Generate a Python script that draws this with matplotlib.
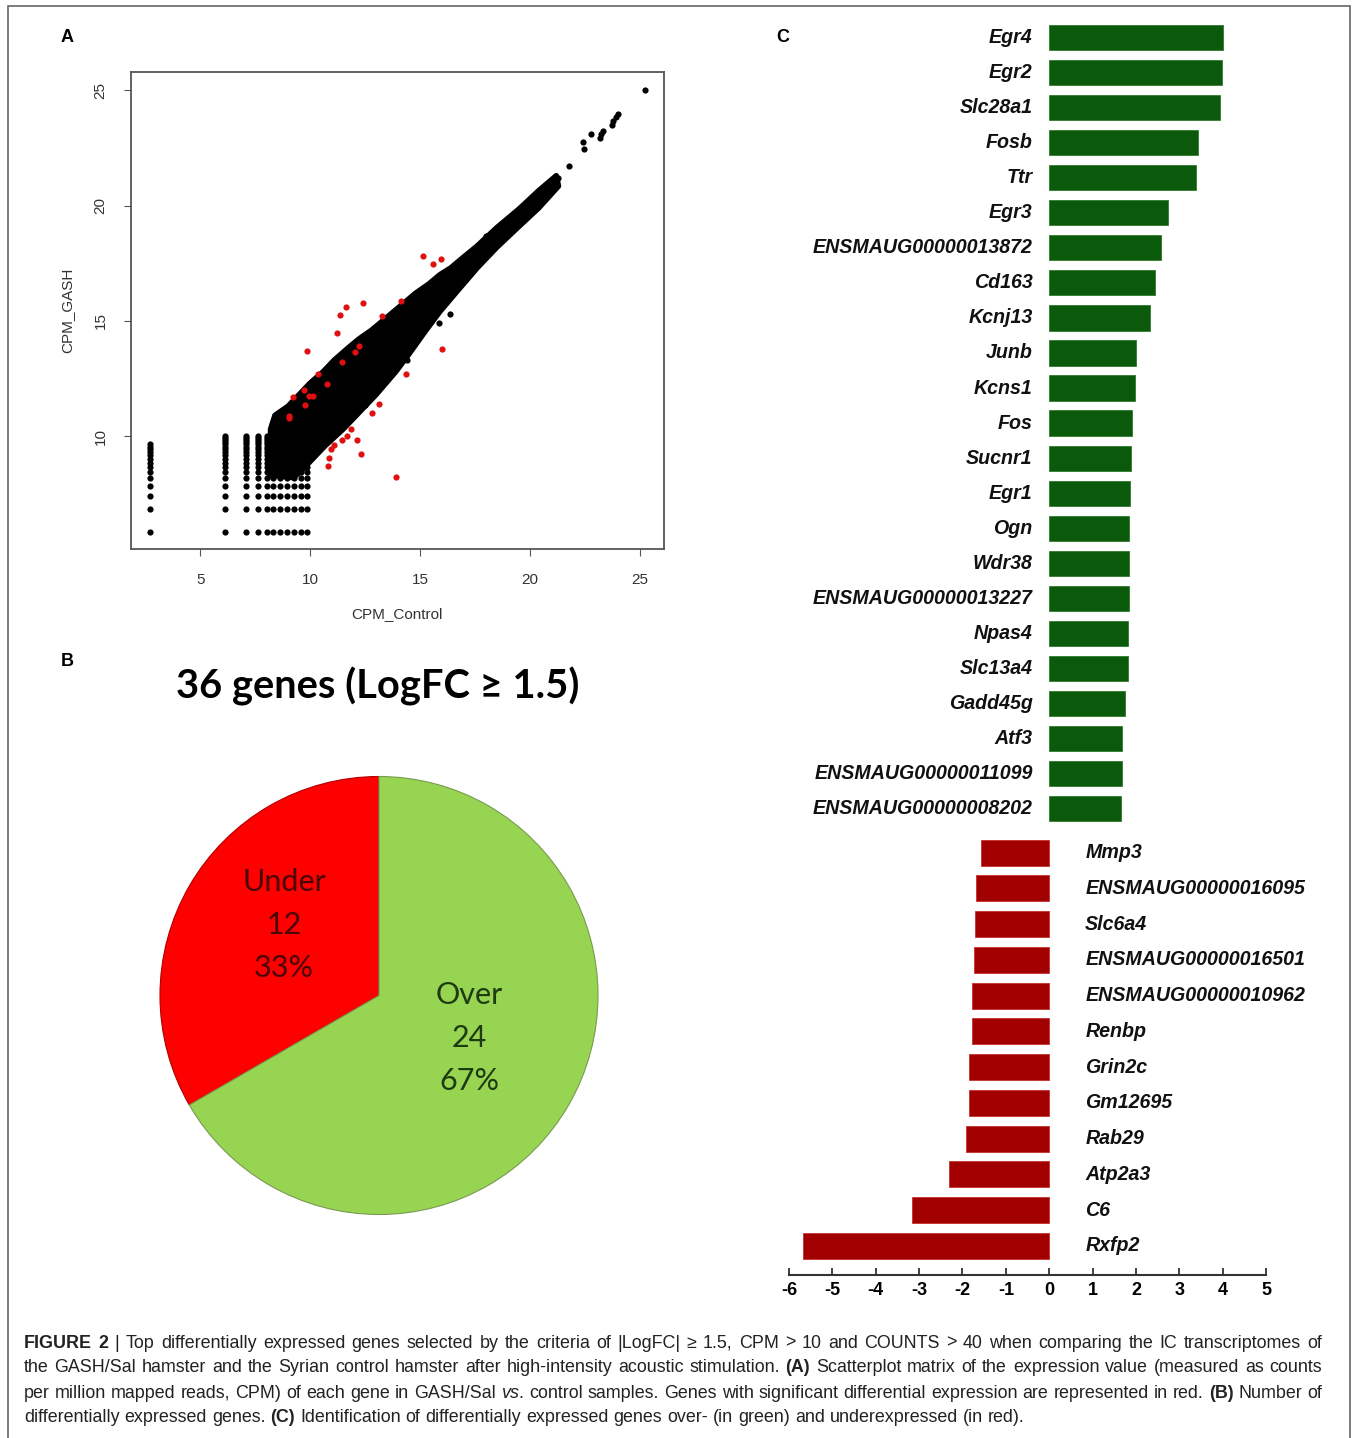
import re
import numpy as np
import matplotlib
matplotlib.use("Agg")
import matplotlib.pyplot as plt
from matplotlib.patches import Rectangle

# ---- panel A: CPM scatter ----
# discrete low-count levels (columns of CPM_Control, rows of CPM_GASH)
grid_x = [2.70, 6.14, 7.07, 7.65, 8.03, 8.33, 8.64, 8.94, 9.28, 9.58, 9.86]
grid_y = [5.84, 6.84, 7.42, 7.84, 8.16, 8.42, 8.65, 8.84, 9.01, 9.16,
          9.30, 9.42, 9.54, 9.65, 9.75, 9.84, 9.93, 10.01]
grid_rows = [14, 18, 18, 18, 18, 18, 18, 18, 18, 18, 18]

# outline of the dense body of genes
cloud_x = [8.2, 8.4, 9.0, 9.5, 10.0, 10.6, 11.1, 11.7, 12.2, 12.8, 13.3, 13.8,
           14.3, 14.8, 15.4, 15.9, 16.4, 16.9, 17.6, 18.5, 19.5, 20.4, 21.2,
           21.3, 20.4, 19.5, 18.5, 17.6, 16.7, 15.9, 15.2, 14.45, 13.9, 13.0,
           12.2, 11.5, 10.7, 10.2, 9.6, 9.24, 8.2]
cloud_y = [10.3, 10.9, 11.3, 11.8, 12.3, 12.8, 13.3, 13.8, 14.2, 14.6, 15.0, 15.4,
           15.8, 16.2, 16.6, 17.0, 17.3, 17.7, 18.25, 19.05, 19.85, 20.65, 21.3,
           20.85, 19.9, 19.1, 18.2, 17.3, 16.3, 15.4, 14.5, 13.5, 12.8, 11.8,
           11.0, 10.3, 9.6, 9.1, 8.5, 8.2, 8.3]

# isolated black genes
other_x = [25.23, 24.0, 23.93, 23.78, 23.75, 23.33, 23.25, 23.17, 22.79, 22.41,
           22.44, 21.76, 21.27, 18.0, 16.7, 16.35, 15.85, 14.92, 14.41, 13.8,
           14.4, 12.96, 12.5, 9.33]
other_y = [25.0, 23.96, 23.86, 23.67, 23.52, 23.23, 23.09, 22.94, 23.09, 22.75,
           22.47, 21.71, 21.2, 18.67, 17.48, 15.3, 14.9, 16.1, 15.46, 15.14,
           13.3, 11.85, 11.36, 10.96]

# differentially expressed genes
de_x = [15.14, 15.6, 15.94, 14.12, 12.4, 11.62, 11.34, 13.28, 11.2, 9.84, 12.03,
        12.22, 11.44, 10.36, 10.79, 9.73, 9.2, 9.95, 10.13, 9.76, 9.02, 9.05,
        16.0, 14.36, 13.15, 12.81, 11.85, 11.47, 11.66, 11.1, 10.95, 10.88,
        10.82, 12.13, 12.31, 13.89]
de_y = [17.82, 17.45, 17.7, 15.86, 15.78, 15.59, 15.26, 15.22, 14.49, 13.69, 13.64,
        13.93, 13.21, 12.71, 12.28, 12.0, 11.69, 11.73, 11.73, 11.33, 10.88, 10.8,
        13.77, 12.68, 11.41, 11.0, 10.29, 9.84, 10.0, 9.6, 9.44, 9.07,
        8.72, 9.84, 9.23, 8.23]

# ---- panel B: pie ----
pie_names = ["Under", "Over"]
pie_counts = [12, 24]

# ---- panel C: logFC bars ----
up_genes = ["Egr4", "Egr2", "Slc28a1", "Fosb", "Ttr", "Egr3", "ENSMAUG00000013872",
            "Cd163", "Kcnj13", "Junb", "Kcns1", "Fos", "Sucnr1", "Egr1", "Ogn",
            "Wdr38", "ENSMAUG00000013227", "Npas4", "Slc13a4", "Gadd45g", "Atf3",
            "ENSMAUG00000011099", "ENSMAUG00000008202"]
up_fc = [4.01, 3.99, 3.94, 3.44, 3.39, 2.73, 2.58, 2.44, 2.33, 2.00, 1.98, 1.92,
         1.89, 1.87, 1.84, 1.84, 1.83, 1.82, 1.82, 1.74, 1.68, 1.67, 1.66]
down_genes = ["Mmp3", "ENSMAUG00000016095", "Slc6a4", "ENSMAUG00000016501",
              "ENSMAUG00000010962", "Renbp", "Grin2c", "Gm12695", "Rab29",
              "Atp2a3", "C6", "Rxfp2"]
down_fc = [-1.58, -1.68, -1.72, -1.74, -1.79, -1.79, -1.84, -1.85, -1.91, -2.32,
           -3.16, -5.68]

caption = [
    "**FIGURE 2** | Top differentially expressed genes selected by the criteria of |LogFC|  \u2265 1.5, CPM > 10 and COUNTS > 40 when comparing the IC transcriptomes of",
    "the GASH/Sal hamster and the Syrian control hamster after high-intensity acoustic stimulation. **(A)** Scatterplot matrix of the expression value (measured as counts",
    "per million mapped reads, CPM) of each gene in GASH/Sal *vs*. control samples. Genes with significant differential expression are represented in red. **(B)** Number of",
    "differentially expressed genes. **(C)** Identification of differentially expressed genes over- (in green) and underexpressed (in red).",
]

W, H = 1358, 1438
plt.rcParams["font.family"] = ["Liberation Sans", "DejaVu Sans"]
plt.rcParams["axes.unicode_minus"] = False
fig = plt.figure(figsize=(W / 100, H / 100), dpi=100)


def box(left, top, right, bottom):
    return [left / W, 1 - bottom / H, (right - left) / W, (bottom - top) / H]


def fx(px):
    return px / W


def fy(py):
    return 1 - py / H


# outer frame
fig.add_artist(Rectangle((fx(8), -0.01), (1350 - 8) / W, fy(6) + 0.01,
                         transform=fig.transFigure, fill=False, ec="#666", lw=1.2))

for letter, (px, py) in zip("ABC", [(67, 37), (67, 661), (783, 37)]):
    fig.text(fx(px), fy(py), letter, fontsize=13, weight="bold", ha="center", va="center")

# ---------------- A ----------------
ax = fig.add_axes(box(131, 72, 664, 549))
gpts = [(x, y) for x, n in zip(grid_x, grid_rows) for y in grid_y[:n]]
gx, gy = zip(*gpts)
ax.fill(cloud_x, cloud_y, fc="black", ec="black", lw=4, joinstyle="round")
ax.scatter(gx, gy, s=20, c="black", lw=0)
ax.scatter(other_x, other_y, s=20, c="black", lw=0)
ax.scatter(de_x, de_y, s=20, c="#e01010", lw=0, zorder=3)
ax.set_xlim(1.85, 26.1)
ax.set_ylim(5.1, 25.8)
ax.set_xticks([5, 10, 15, 20, 25])
ax.set_yticks([10, 15, 20, 25])
ax.tick_params(length=5, color="#555", labelcolor="#333", labelsize=11, pad=12)
for lab in ax.get_yticklabels():
    lab.set_rotation(90)
    lab.set_va("center")
for s in ax.spines.values():
    s.set_color("#555")
    s.set_linewidth(1.3)
fig.text(fx(397), fy(614), "CPM_Control", fontsize=11, color="#333", ha="center", va="center")
fig.text(fx(67), fy(310), "CPM_GASH", fontsize=11, color="#333", ha="center", va="center",
         rotation=90)

# ---------------- B ----------------
fig.text(fx(378), fy(686), "36 genes (LogFC \u2265 1.5)", fontsize=28.7, weight="bold",
         family=["Lato", "DejaVu Sans"], ha="center", va="center")
axp = fig.add_axes(box(160, 776.5, 598, 1214.5))
wedges, _ = axp.pie(pie_counts, colors=["#fe0000", "#96d452"], startangle=90,
                    counterclock=True, radius=1,
                    wedgeprops=dict(ec="#7a9a50", lw=0.8))
wedges[0].set_edgecolor("#b00000")
axp.set_xlim(-1, 1)
axp.set_ylim(-1, 1)
total = sum(pie_counts)
label_xy = [(-0.434, 0.322), (0.411, -0.194)]
for (lx, ly), name, n, col in zip(label_xy, pie_names, pie_counts,
                                  ["#4a0505", "#1d3a10"]):
    axp.text(lx, ly, f"{name}\n{n}\n{round(100 * n / total)}%",
             ha="center", va="center", fontsize=22, color=col,
             family=["Lato", "DejaVu Sans"], linespacing=1.66)

# ---------------- C ----------------
axb = fig.add_axes(box(789, 15, 1266, 1275))
up_pos = np.arange(len(up_genes))
down_pos = len(up_genes) + 0.25 + np.arange(len(down_genes)) * 1.02
axb.barh(up_pos, up_fc, height=0.72, color="#0b5a0b", ec="#2f7a2f", lw=0.6)
axb.barh(down_pos, down_fc, height=0.74, color="#a20000", ec="#c83030", lw=0.6)
for p, g in zip(up_pos, up_genes):
    axb.text(-0.38, p, g, ha="right", va="center", fontsize=14.1, weight="bold",
             style="italic", color="#111", clip_on=False)
for p, g in zip(down_pos, down_genes):
    axb.text(0.83, p, g, ha="left", va="center", fontsize=14.1, weight="bold",
             style="italic", color="#111", clip_on=False)
axb.set_xlim(-6, 5)
axb.set_ylim(35.3, -0.64)
for side in ["top", "left", "right"]:
    axb.spines[side].set_visible(False)
axb.spines["bottom"].set_bounds(-6, 5)
axb.spines["bottom"].set_linewidth(1.5)
axb.spines["bottom"].set_color("#333")
axb.set_yticks([])
axb.set_xticks(range(-6, 6))
axb.tick_params(axis="x", direction="in", length=5, width=1.3, color="#333",
                labelsize=13, pad=5)
for lab in axb.get_xticklabels():
    lab.set_fontweight("bold")

# ---------------- caption ----------------
renderer = fig.canvas.get_renderer()


def split_words(line):
    runs, style = [], "normal"
    for tok in re.split(r"(\*\*|\*)", line):
        if tok == "**":
            style = "normal" if style == "bold" else "bold"
        elif tok == "*":
            style = "normal" if style == "italic" else "italic"
        elif tok:
            runs.append((tok, style))
    words = [[]]
    for text, st in runs:
        for i, part in enumerate(text.split(" ")):
            if i > 0:
                words.append([])
            if part:
                words[-1].append((part, st))
    return [w for w in words if w]


def put_line(line, py, x0, x1, size, justify):
    words = split_words(line)
    placed = []
    for w in words:
        pieces = []
        for text, st in w:
            t = fig.text(0, fy(py), text, fontsize=size, color="#222", va="center",
                         weight="bold" if st == "bold" else "normal",
                         style="italic" if st == "italic" else "normal")
            pieces.append((t, t.get_window_extent(renderer).width))
        placed.append(pieces)
    widths = [sum(wd for _, wd in ps) for ps in placed]
    if justify:
        gap = (x1 - x0 - sum(widths)) / (len(words) - 1)
    else:
        a = fig.text(0, 0, "a a", fontsize=size)
        b = fig.text(0, 0, "aa", fontsize=size)
        gap = a.get_window_extent(renderer).width - b.get_window_extent(renderer).width
        a.remove()
        b.remove()
    x = x0
    for ps in placed:
        for t, wd in ps:
            t.set_x(fx(x))
            x += wd
        x += gap


cap_size = 12.85
for i, line in enumerate(caption):
    put_line(line, 1343 + 25 * i, 24, 1322, cap_size, i < len(caption) - 1)

fig.savefig("out.png", dpi=100)
